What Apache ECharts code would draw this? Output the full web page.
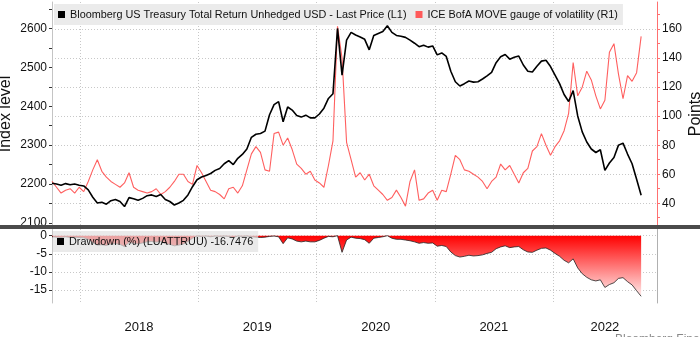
<!DOCTYPE html>
<html>
<head>
<meta charset="utf-8">
<script src="https://cdn.jsdelivr.net/npm/echarts@6/dist/echarts.min.js"></script>
<style>
  html, body { margin: 0; padding: 0; background: #ffffff; }
  #chart { width: 700px; height: 337px; }
</style>
</head>
<body>
<div id="chart"></div>
<script>
// Fortnightly observations, Oct 2017 - Sep 2022
const dates = [
  '2017-10-06','2017-10-20','2017-11-03','2017-11-17','2017-12-01','2017-12-15','2017-12-29',
  '2018-01-12','2018-01-26','2018-02-09','2018-02-23','2018-03-09','2018-03-23','2018-04-06','2018-04-20',
  '2018-05-04','2018-05-18','2018-06-01','2018-06-15','2018-06-29','2018-07-13','2018-07-27','2018-08-10',
  '2018-08-24','2018-09-07','2018-09-21','2018-10-05','2018-10-19','2018-11-02','2018-11-16','2018-11-30',
  '2018-12-14','2018-12-28',
  '2019-01-11','2019-01-25','2019-02-08','2019-02-22','2019-03-08','2019-03-22','2019-04-05','2019-04-19',
  '2019-05-03','2019-05-17','2019-05-31','2019-06-14','2019-06-28','2019-07-12','2019-07-26','2019-08-09',
  '2019-08-23','2019-09-06','2019-09-20','2019-10-04','2019-10-18','2019-11-01','2019-11-15','2019-11-29',
  '2019-12-13','2019-12-27',
  '2020-01-10','2020-01-24','2020-02-07','2020-02-21','2020-03-06','2020-03-20','2020-04-03','2020-04-17',
  '2020-05-01','2020-05-15','2020-05-29','2020-06-12','2020-06-26','2020-07-10','2020-07-24','2020-08-07',
  '2020-08-21','2020-09-04','2020-09-18','2020-10-02','2020-10-16','2020-10-30','2020-11-13','2020-11-27',
  '2020-12-11','2020-12-25',
  '2021-01-08','2021-01-22','2021-02-05','2021-02-19','2021-03-05','2021-03-19','2021-04-02','2021-04-16',
  '2021-04-30','2021-05-14','2021-05-28','2021-06-11','2021-06-25','2021-07-09','2021-07-23','2021-08-06',
  '2021-08-20','2021-09-03','2021-09-17','2021-10-01','2021-10-15','2021-10-29','2021-11-12','2021-11-26',
  '2021-12-10','2021-12-24',
  '2022-01-07','2022-01-21','2022-02-04','2022-02-18','2022-03-04','2022-03-18','2022-04-01','2022-04-15',
  '2022-04-29','2022-05-13','2022-05-27','2022-06-10','2022-06-24','2022-07-08','2022-07-22','2022-08-05',
  '2022-08-19','2022-09-02','2022-09-16','2022-09-30'
];

// Bloomberg US Treasury Total Return Unhedged USD (LUATTRUU), index level
const treasuryIndex = [
  2202, 2200, 2197, 2201, 2198, 2200, 2197, 2195, 2185, 2166,
  2151, 2153, 2148, 2157, 2160, 2155, 2142, 2165, 2162, 2158,
  2163, 2170, 2172, 2168, 2173, 2160, 2155, 2146, 2151, 2158,
  2172, 2193, 2211, 2218, 2222, 2227, 2235, 2240, 2252, 2260,
  2250, 2266, 2276, 2290, 2320, 2328, 2330, 2336, 2378, 2404,
  2412, 2360, 2398, 2390, 2376, 2372, 2377, 2370, 2370, 2380,
  2395, 2420, 2432, 2600, 2480, 2570, 2590, 2583, 2578, 2572,
  2545, 2582, 2587, 2592, 2607, 2590, 2582, 2580, 2577, 2570,
  2562, 2553, 2557, 2552, 2555, 2532, 2537, 2528, 2490, 2463,
  2452, 2458, 2465, 2462, 2463, 2470, 2478, 2487, 2512, 2527,
  2533, 2521, 2526, 2529, 2506, 2490, 2488, 2503, 2516, 2518,
  2502, 2480, 2458, 2430, 2412, 2440, 2375, 2334, 2308, 2290,
  2281, 2288, 2235, 2254, 2268, 2300, 2305, 2277, 2252, 2212,
  2171
];

// ICE BofA MOVE index, points
const moveIndex = [
  55, 51, 47, 49, 50, 47, 51, 48, 55, 63,
  70, 62, 58, 55, 53, 51, 54, 61, 51, 49,
  48, 47, 48, 50, 46, 48, 51, 55, 60, 60,
  55, 53, 66, 61, 55, 49, 48, 46, 43, 50,
  51, 47, 52, 63, 74, 79, 75, 63, 62, 88,
  89, 80, 85, 77, 67, 64, 60, 62, 56, 54,
  51, 66, 83, 162, 140, 82, 70, 58, 61, 56,
  60, 52, 49, 46, 42, 44, 49, 44, 38, 55,
  63, 42, 43, 47, 49, 42, 49, 48, 60, 73,
  70, 63, 62, 60, 58, 55, 50, 55, 58, 67,
  63, 66, 60, 54, 61, 64, 76, 79, 88, 80,
  73, 79, 83, 90, 102, 137, 114, 120, 131, 125,
  114, 105, 111, 144, 150, 129, 112, 128, 124, 130,
  155
];

// Drawdown of LUATTRUU from its running peak, percent
const drawdownPct = [
  -0.3, -0.4, -0.5, -0.3, -0.5, -0.4, -0.5, -0.6, -1.0, -1.9,
  -2.6, -2.5, -2.7, -2.3, -2.2, -2.4, -3.0, -1.9, -2.1, -2.3,
  -2.0, -1.7, -1.6, -1.8, -1.6, -2.2, -2.4, -2.8, -2.6, -2.3,
  -1.6, -0.7, -0.1, -0.2, -0.1, -0.3, -0.1, -0.2, -0.1, -0.2,
  -0.5, -0.1, -0.2, -0.1, -0.3, -0.4, -0.5, -0.4, -0.2, -0.1,
  -0.3, -2.2, -0.6, -0.9, -1.5, -1.7, -1.5, -1.7, -1.7, -1.3,
  -0.7, -0.2, -0.3, 0, -4.6, -1.2, -0.4, -0.7, -0.8, -1.1,
  -2.1, -0.7, -0.5, -0.3, 0, -0.7, -1.0, -1.0, -1.2, -1.4,
  -1.7, -2.1, -1.9, -2.1, -2.0, -2.9, -2.7, -3.0, -4.5, -5.5,
  -5.9, -5.7, -5.4, -5.6, -5.5, -5.3, -4.9, -4.6, -3.6, -3.1,
  -2.8, -3.3, -3.1, -3.0, -3.9, -4.5, -4.6, -4.0, -3.5, -3.4,
  -4.0, -4.9, -5.7, -6.8, -7.5, -6.4, -8.9, -10.5, -11.5, -12.2,
  -12.5, -12.2, -14.3, -13.5, -13.0, -11.8, -11.6, -12.7, -13.6, -15.2,
  -16.7476
];

// Axis ticks and labels
const indexTickLabels = [2100, 2200, 2300, 2400, 2500, 2600];
const indexTickMarks = [2100, 2150, 2200, 2250, 2300, 2350, 2400, 2450, 2500, 2550, 2600, 2650];
const pointsTickLabels = [40, 60, 80, 100, 120, 140, 160];
const pointsTickMarks = [30, 40, 50, 60, 70, 80, 90, 100, 110, 120, 130, 140, 150, 160, 170];
const drawdownTickLabels = [0, -5, -10, -15];
const yearStarts = ['2018-01-01', '2019-01-01', '2020-01-01', '2021-01-01', '2022-01-01'];
const yearLabelDates = ['2018-07-02', '2019-07-02', '2020-07-02', '2021-07-02', '2022-06-10'];

const seriesNames = {
  index: 'Bloomberg US Treasury Total Return Unhedged USD - Last Price (L1)',
  move: 'ICE BofA MOVE gauge of volatility (R1)',
  drawdown: 'Drawdown (%) (LUATTRUU)'
};

const FONT = '"Liberation Sans", Arial, sans-serif';
// dates are placed on a numeric millisecond scale
const toTime = d => echarts.number.parseDate(d).getTime();
const xMin = toTime('2017-10-06');
const xMax = toTime('2022-11-18');

const pair = arr => dates.map((d, i) => [toTime(d), arr[i]]);
const dotted = { show: true, lineStyle: { color: '#c8c8c8', width: 1, type: [1, 2] } };

const chart = echarts.init(document.getElementById('chart'), null, { renderer: 'canvas' });

chart.setOption({
  animation: false,
  backgroundColor: '#ffffff',
  textStyle: { fontFamily: FONT },
  grid: [
    { left: 52, right: 43, top: 2, height: 224, outerBoundsMode: 'none' },
    { left: 52, right: 43, top: 229, height: 74, outerBoundsMode: 'none' }
  ],
  legend: [
    {
      data: [seriesNames.index, seriesNames.move],
      left: 54, top: 4,
      padding: [5, 5, 5, 4],
      backgroundColor: '#ebebeb',
      icon: 'rect', itemWidth: 7, itemHeight: 7, itemGap: 9,
      selectedMode: false,
      textStyle: { fontFamily: FONT, fontSize: 10.85, color: '#111' }
    },
    {
      data: [seriesNames.drawdown],
      left: 53, top: 231,
      padding: [5, 5, 5, 4],
      backgroundColor: 'rgba(226,226,226,0.72)',
      icon: 'rect', itemWidth: 7, itemHeight: 7,
      selectedMode: false,
      formatter: name => name + ' ' + drawdownPct[drawdownPct.length - 1].toFixed(4),
      textStyle: { fontFamily: FONT, fontSize: 10.85, color: '#111' }
    }
  ],
  xAxis: [
    {
      type: 'value', gridIndex: 0, min: xMin, max: xMax,
      axisLine: { show: false },
      axisTick: { show: false, customValues: yearStarts.map(toTime) },
      axisLabel: { show: false },
      splitLine: dotted
    },
    {
      type: 'value', gridIndex: 1, min: xMin, max: xMax,
      axisLine: { show: false },
      axisTick: { show: false, customValues: yearStarts.map(toTime) },
      axisLabel: {
        customValues: yearLabelDates.map(toTime),
        formatter: v => String(new Date(v).getFullYear()),
        fontFamily: FONT, fontSize: 13, color: '#111', margin: 18
      },
      splitLine: dotted
    }
  ],
  yAxis: [
    {
      type: 'value', gridIndex: 0, position: 'left', min: 2092, max: 2668,
      name: 'Index level', nameLocation: 'middle', nameGap: 38, nameMoveOverlap: false,
      nameTextStyle: { fontFamily: FONT, fontSize: 16, color: '#111' },
      axisLine: { show: true, lineStyle: { color: '#c4c4c4', width: 1 } },
      axisTick: { show: true, length: 3, customValues: indexTickMarks, lineStyle: { color: '#333' } },
      axisLabel: { customValues: indexTickLabels, formatter: v => String(v), fontFamily: FONT, fontSize: 12, color: '#111', margin: 5 },
      splitLine: { show: false }
    },
    {
      type: 'value', gridIndex: 0, position: 'right', min: 24.3, max: 178.7,
      name: 'Points', nameLocation: 'middle', nameGap: 31, nameMoveOverlap: false,
      nameTextStyle: { fontFamily: FONT, fontSize: 16, color: '#111' },
      axisLine: { show: true, lineStyle: { color: '#ff7070', width: 1 } },
      axisTick: { show: true, length: 3, customValues: pointsTickMarks, lineStyle: { color: '#ff7070' } },
      axisLabel: { customValues: pointsTickLabels, formatter: v => String(v), fontFamily: FONT, fontSize: 12, color: '#111', margin: 5 },
      splitLine: { show: false }
    },
    {
      // horizontal grid lines of the upper panel follow the right-hand scale
      type: 'value', gridIndex: 0, position: 'right', min: 24.3, max: 178.7,
      axisLine: { show: false },
      axisTick: { show: false, customValues: pointsTickLabels },
      axisLabel: { show: false },
      splitLine: dotted
    },
    {
      type: 'value', gridIndex: 1, position: 'left', min: -18.6, max: 1.85,
      axisLine: { show: true, lineStyle: { color: '#c4c4c4', width: 1 } },
      axisTick: { show: true, length: 3, customValues: drawdownTickLabels, lineStyle: { color: '#333' } },
      axisLabel: { customValues: drawdownTickLabels, formatter: v => String(v), fontFamily: FONT, fontSize: 12, color: '#111', margin: 5 },
      splitLine: dotted
    },
    {
      type: 'value', gridIndex: 1, position: 'right', min: -18.6, max: 1.85,
      axisLine: { show: true, lineStyle: { color: '#b0b0b0', width: 1 } },
      axisTick: { show: false },
      axisLabel: { show: false },
      splitLine: { show: false }
    }
  ],
  series: [
    {
      name: seriesNames.move, type: 'line', xAxisIndex: 0, yAxisIndex: 1,
      data: pair(moveIndex), showSymbol: false, symbol: 'none',
      color: '#ff5a5a', lineStyle: { color: '#ff5f5f', width: 1.1 }, z: 2
    },
    {
      name: seriesNames.index, type: 'line', xAxisIndex: 0, yAxisIndex: 0,
      data: pair(treasuryIndex), showSymbol: false, symbol: 'none',
      color: '#000000', lineStyle: { color: '#000000', width: 1.6 }, z: 3
    },
    {
      name: seriesNames.drawdown, type: 'line', xAxisIndex: 1, yAxisIndex: 3,
      data: pair(drawdownPct), showSymbol: false, symbol: 'none',
      color: '#000000', lineStyle: { color: '#222222', width: 0.8 },
      areaStyle: {
        opacity: 1,
        color: new echarts.graphic.LinearGradient(0, 0, 0, 1, [
          { offset: 0, color: 'rgb(255,0,0)' },
          { offset: 1, color: 'rgb(255,236,236)' }
        ])
      },
      z: 2
    }
  ],
  graphic: [
    { type: 'rect', left: 0, top: 225, shape: { width: 700, height: 4 }, style: { fill: '#4b4b4b' }, z: 100 },
    { type: 'text', left: 615, top: 333.5, style: { text: 'Bloomberg Finance L.P.', fill: '#888', font: '12px ' + FONT }, z: 100 }
  ]
});
</script>
</body>
</html>
